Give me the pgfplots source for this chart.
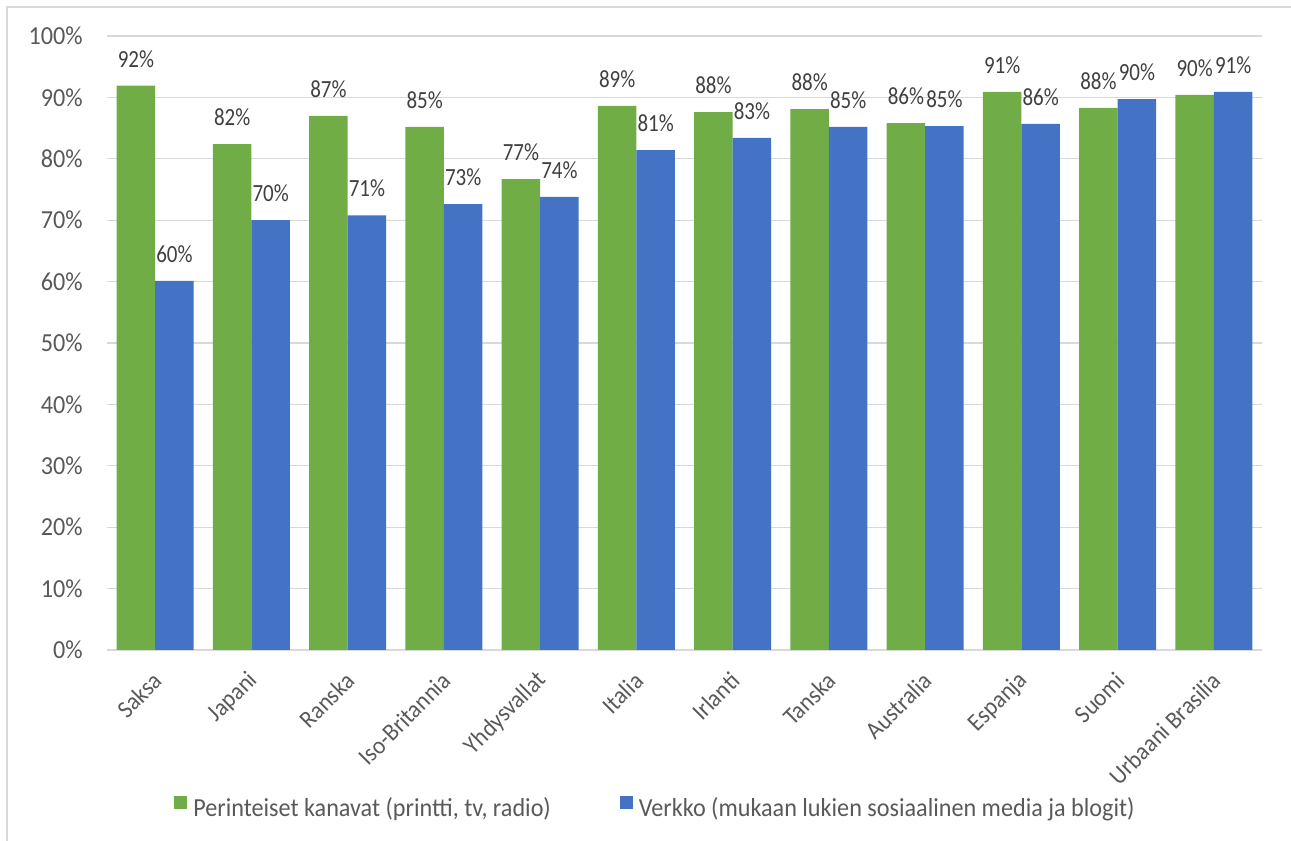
\documentclass[border=0pt]{standalone}
\usepackage{fontspec}
\setmainfont{Carlito}[FakeStretch=0.93]
\newfontfamily\labelfont{Carlito}[FakeStretch=0.85]
\usepackage{pgfplots}
\pgfplotsset{compat=1.18}

\definecolor{cgreen}{HTML}{70AD47}
\definecolor{cblue}{HTML}{4472C4}
\definecolor{cgrid}{HTML}{D9D9D9}
\definecolor{ctick}{HTML}{595959}
\definecolor{clabel}{HTML}{404040}

% 1 px of the reference = 0.75pt
\begin{document}
\fontsize{19.5pt}{23pt}\selectfont
\begin{tikzpicture}
\useasboundingbox (-80.25pt,-143.25pt) rectangle (888pt,487.5pt);
\draw[cgrid, line width=1.2pt] (-75pt,-150pt) -- (-75pt,482.25pt) -- (900pt,482.25pt);
\begin{axis}[
  at={(0pt,0pt)}, anchor=south west,
  scale only axis,
  width=866.25pt, height=460.5pt,
  xmin=-0.5, xmax=11.5,
  ymin=0, ymax=100,
  clip=false,
  axis line style={draw=none},
  major tick length=0pt,
  ymajorgrids,
  major grid style={cgrid, line width=0.9pt},
  ytick={0,10,...,100},
  extra y ticks={0},
  extra y tick labels={},
  extra y tick style={grid style={cgrid, line width=1.3pt}},
  /pgf/number format/assume math mode=true,
  yticklabel={\pgfmathprintnumber{\tick}\%},
  yticklabel style={text=ctick, inner sep=0pt, anchor=east, xshift=-18pt},
  xtick={0,...,11},
  xticklabels={Saksa,Japani,Ranska,Iso-Britannia,Yhdysvallat,Italia,Irlanti,Tanska,Australia,Espanja,Suomi,Urbaani Brasilia},
  xticklabel style={xshift=2pt, yshift=-20pt, rotate=45, anchor=east, inner sep=0pt,
    text=ctick, font=\fontsize{18.5pt}{22pt}\selectfont},
  ybar=0pt,
  bar width=0.4,
  nodes near coords={\pgfmathprintnumber[fixed,precision=0]{\pgfplotspointmeta}\%},
  every node near coord/.append style={font=\labelfont\fontsize{18.5pt}{22pt}\selectfont,
    text=clabel, anchor=south, inner sep=0pt, yshift=13.5pt},
  legend columns=2,
  legend style={at={(0.058,-0.2573)}, anchor=west, draw=none, fill=none,
    inner sep=0pt, text=ctick, column sep=4.5pt,
    nodes={inner sep=0pt},
    /tikz/every even column/.append style={column sep=51.75pt}},
  legend cell align=left,
  legend image code/.code={\draw[#1,draw=none] (0pt,0pt) rectangle (9.75pt,9.75pt);},
]
\addplot[fill=cgreen, draw=none, bar shift=-0.2] coordinates {
  (0,91.9) (1,82.4) (2,87.0) (3,85.2) (4,76.7) (5,88.6)
  (6,87.6) (7,88.1) (8,85.8) (9,90.9) (10,88.3) (11,90.4)
};
\addlegendentry{Perinteiset kanavat (printti, tv, radio)}
\addplot[fill=cblue, draw=none, bar shift=0.2] coordinates {
  (0,60.1) (1,70.0) (2,70.8) (3,72.6) (4,73.8) (5,81.4)
  (6,83.4) (7,85.2) (8,85.3) (9,85.7) (10,89.7) (11,90.9)
};
\addlegendentry{Verkko (mukaan lukien sosiaalinen media ja blogit)}
\end{axis}
\end{tikzpicture}
\end{document}
